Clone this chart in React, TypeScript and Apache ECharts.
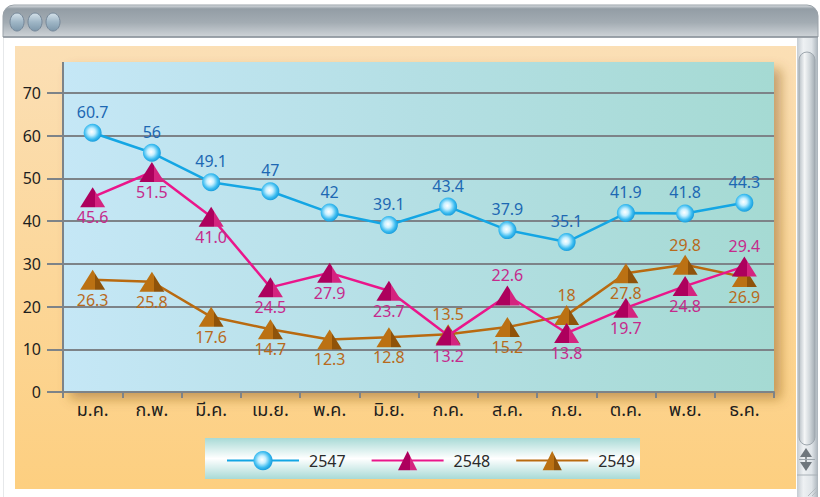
import React, { useEffect, useRef } from "react";
import * as echarts from "echarts";

const months = ["ม.ค.", "ก.พ.", "มี.ค.", "เม.ย.", "พ.ค.", "มิ.ย.", "ก.ค.", "ส.ค.", "ก.ย.", "ต.ค.", "พ.ย.", "ธ.ค."];
const seriesNames = ["2547", "2548", "2549"];
const values2547 = [60.7, 56, 49.1, 47, 42, 39.1, 43.4, 37.9, 35.1, 41.9, 41.8, 44.3];
const values2548 = [45.6, 51.5, 41.0, 24.5, 27.9, 23.7, 13.2, 22.6, 13.8, 19.7, 24.8, 29.4];
const labels2548 = ["45.6", "51.5", "41.0", "24.5", "27.9", "23.7", "13.2", "22.6", "13.8", "19.7", "24.8", "29.4"];
const values2549 = [26.3, 25.8, 17.6, 14.7, 12.3, 12.8, 13.5, 15.2, 18, 27.8, 29.8, 26.9];
const above2548 = [7, 11];
const above2549 = [6, 8, 10];
const yTicks = { min: 0, max: 70, interval: 10 };

const AX = "#7d8388";
const FONT = "'Noto Sans', 'DejaVu Sans', sans-serif";
const THAI = "'Noto Sans Thai', 'Loma', 'Garuda', 'Tlwg Typo', 'Norasi', 'Noto Sans', sans-serif";

function tri(main: string, side: string) {
  return new echarts.graphic.LinearGradient(0, 0, 1, 0, [
    { offset: 0, color: main },
    { offset: 0.6, color: main },
    { offset: 0.6, color: side },
    { offset: 1, color: side },
  ]);
}

export default function App() {
  const ref = useRef<HTMLDivElement>(null);
  useEffect(() => {
    if (!ref.current) return;
    const chart = echarts.init(ref.current, undefined, { renderer: "svg" });
    const ball = new echarts.graphic.RadialGradient(0.45, 0.45, 0.55, [
      { offset: 0, color: "#ffffff" },
      { offset: 0.35, color: "#c9f0ff" },
      { offset: 0.75, color: "#3cbcf0" },
      { offset: 1, color: "#1a9edd" },
    ]);
    const triMag = tri("#ad005d", "#d4247f");
    const triBrown = tri("#bb7113", "#8f530a");

    const labelData = (vals: number[], above: number[], texts?: string[]) =>
      vals.map((v, i) => ({
        value: v,
        label: {
          position: above.includes(i) ? "top" : "bottom",
          formatter: texts ? texts[i] : String(v),
        },
      }));

    chart.setOption({
      animation: false,
      grid: { left: 63, right: 46, top: 93, bottom: 105 },
      graphic: [
        {
          type: "rect",
          shape: { x: 3, y: 5, width: 815, height: 32, r: [11, 11, 0, 0] },
          style: {
            fill: new echarts.graphic.LinearGradient(0, 0, 0, 1, [
              { offset: 0, color: "#dfe3e6" },
              { offset: 0.12, color: "#939da5" },
              { offset: 0.55, color: "#a3acb3" },
              { offset: 1, color: "#cfd4d8" },
            ]),
            stroke: "#9aa2a9",
            lineWidth: 1,
          },
          z: 0,
        },
        { type: "line", shape: { x1: 3, y1: 37, x2: 818, y2: 37 }, style: { stroke: "#8c959c", lineWidth: 1.5 }, z: 1 },
        ...[17, 35, 53].map((cx) => ({
          type: "ellipse",
          shape: { cx, cy: 22, rx: 7, ry: 9 },
          style: {
            fill: new echarts.graphic.LinearGradient(0, 0, 0, 1, [
              { offset: 0, color: "#d5e2ea" },
              { offset: 0.5, color: "#9fb6c6" },
              { offset: 1, color: "#7d97aa" },
            ]),
            stroke: "#76889a",
            lineWidth: 1,
          },
          z: 1,
        })),
        { type: "line", shape: { x1: 3.5, y1: 37, x2: 3.5, y2: 497 }, style: { stroke: "#e6e8ea", lineWidth: 1 }, z: 0 },
        {
          type: "rect",
          shape: { x: 15, y: 46, width: 781, height: 443 },
          style: {
            fill: new echarts.graphic.LinearGradient(0, 0, 0, 1, [
              { offset: 0, color: "#fbdfb5" },
              { offset: 1, color: "#fdcf80" },
            ]),
          },
          z: 0,
        },
        {
          type: "rect",
          shape: { x: 797, y: 38, width: 21, height: 459 },
          style: {
            fill: new echarts.graphic.LinearGradient(0, 0, 1, 0, [
              { offset: 0, color: "#c5ccd2" },
              { offset: 0.3, color: "#eef1f3" },
              { offset: 0.7, color: "#dfe4e8" },
              { offset: 1, color: "#aab3ba" },
            ]),
          },
          z: 0,
        },
        {
          type: "rect",
          shape: { x: 799, y: 52, width: 16, height: 393, r: 8 },
          style: {
            fill: new echarts.graphic.LinearGradient(0, 0, 1, 0, [
              { offset: 0, color: "#b9c1c7" },
              { offset: 0.35, color: "#f4f6f7" },
              { offset: 0.65, color: "#d3d9dd" },
              { offset: 1, color: "#a3acb3" },
            ]),
            stroke: "#9ea7ae",
            lineWidth: 1,
          },
          z: 1,
        },
        { type: "line", shape: { x1: 797, y1: 475, x2: 818, y2: 475 }, style: { stroke: "#a8b0b6", lineWidth: 1 }, z: 1 },
        { type: "polygon", shape: { points: [[806, 448], [800, 457], [812, 457]] }, style: { fill: "#6f777d" }, z: 2 },
        { type: "polygon", shape: { points: [[806, 471], [800, 462], [812, 462]] }, style: { fill: "#6f777d" }, z: 2 },
        { type: "line", shape: { x1: 806, y1: 456, x2: 806, y2: 463 }, style: { stroke: "#6f777d", lineWidth: 1.5 }, z: 2 },
        { type: "line", shape: { x1: 799, y1: 459.5, x2: 815, y2: 459.5 }, style: { stroke: "#9ea7ae", lineWidth: 1 }, z: 2 },
        { type: "line", shape: { x1: 808, y1: 496, x2: 817, y2: 487 }, style: { stroke: "#b5bcc1", lineWidth: 1 }, z: 2 },
        { type: "line", shape: { x1: 812, y1: 496, x2: 817, y2: 491 }, style: { stroke: "#b5bcc1", lineWidth: 1 }, z: 2 },
        {
          type: "rect",
          shape: { x: 63, y: 62, width: 711, height: 330 },
          style: {
            fill: new echarts.graphic.LinearGradient(0, 0, 1, 0, [
              { offset: 0, color: "#c5e7f6" },
              { offset: 0.5, color: "#b4dfe4" },
              { offset: 1, color: "#a5dad3" },
            ]),
            shadowBlur: 12,
            shadowOffsetX: 7,
            shadowOffsetY: 7,
            shadowColor: "rgba(130,85,20,0.45)",
          },
          z: 0,
        },
        { type: "line", shape: { x1: 63, y1: 62, x2: 63, y2: 94 }, style: { stroke: AX, lineWidth: 2 }, z: 1 },
        {
          type: "rect",
          shape: { x: 205, y: 438, width: 435, height: 41 },
          style: {
            fill: new echarts.graphic.LinearGradient(0, 0, 0, 1, [
              { offset: 0, color: "#a8dad6" },
              { offset: 0.5, color: "#ffffff" },
              { offset: 1, color: "#a8dad6" },
            ]),
          },
          z: 0,
        },
      ],
      legend: {
        left: 221,
        top: 446,
        itemWidth: 72,
        itemHeight: 24,
        itemGap: 25,
        data: seriesNames,
        textStyle: { fontFamily: FONT, fontSize: 16, color: "#2a2a2a", padding: [0, 0, 0, 5] },
      },
      xAxis: {
        type: "category",
        data: months,
        boundaryGap: true,
        axisLine: { lineStyle: { color: AX, width: 2 } },
        axisTick: { show: true, length: 6, lineStyle: { color: AX, width: 2 } },
        axisLabel: { margin: 9, fontSize: 18, color: "#1e1e1e", fontFamily: THAI },
      },
      yAxis: {
        type: "value",
        min: yTicks.min,
        max: yTicks.max,
        interval: yTicks.interval,
        axisLine: { show: true, lineStyle: { color: AX, width: 2 } },
        axisTick: { show: true, length: 16, lineStyle: { color: AX, width: 2 } },
        splitLine: { lineStyle: { color: AX, width: 2 } },
        axisLabel: { margin: 22, fontSize: 16, color: "#1e1e1e", fontFamily: FONT },
      },
      series: [
        {
          name: seriesNames[0],
          type: "line",
          data: values2547,
          symbol: "circle",
          symbolSize: 18,
          lineStyle: { color: "#14a6e4", width: 2.5 },
          itemStyle: { color: ball, borderWidth: 0 },
          label: { show: true, position: "top", distance: 4, color: "#1d68b3", fontSize: 16, fontFamily: FONT },
          z: 3,
        },
        {
          name: seriesNames[1],
          type: "line",
          data: labelData(values2548, above2548, labels2548),
          symbol: "triangle",
          symbolSize: [25, 20],
          lineStyle: { color: "#ea168b", width: 2.5 },
          itemStyle: { color: triMag, borderWidth: 0 },
          label: { show: true, distance: 2, color: "#c52a8c", fontSize: 16, fontFamily: FONT },
          z: 4,
        },
        {
          name: seriesNames[2],
          type: "line",
          data: labelData(values2549, above2549),
          symbol: "triangle",
          symbolSize: [25, 20],
          lineStyle: { color: "#b96a10", width: 2.5 },
          itemStyle: { color: triBrown, borderWidth: 0 },
          label: { show: true, distance: 2, color: "#b86a1c", fontSize: 16, fontFamily: FONT },
          z: 3,
        },
      ],
    });
    return () => chart.dispose();
  }, []);
  return (
    <div
      ref={ref}
      style={{ position: "fixed", left: 0, top: 0, width: 820, height: 497, background: "#ffffff" }}
    />
  );
}
